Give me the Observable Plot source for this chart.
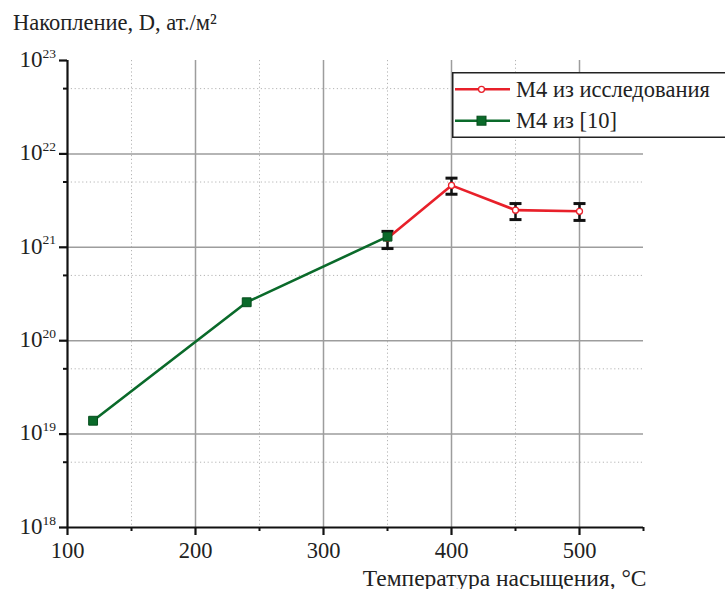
<!DOCTYPE html>
<html><head><meta charset="utf-8">
<script src="https://cdn.jsdelivr.net/npm/d3@7"></script>
<script src="https://cdn.jsdelivr.net/npm/@observablehq/plot@0.6"></script>
</head><body style="margin:0;font-family:'Liberation Serif',serif">
<div id="wrap" style="position:relative;width:725px;height:589px"></div>
<script>
// ---- data ----
const temperatureRed = [350, 400, 450, 500];
const depositRed = [1.25e21, 4.6e21, 2.5e21, 2.43e21];
const errLowRed = [0.97e21, 3.7e21, 1.98e21, 1.94e21];
const errHighRed = [1.48e21, 5.5e21, 2.94e21, 2.94e21];
const temperatureGreen = [120, 240, 350];
const depositGreen = [1.39e19, 2.58e20, 1.3e21];
const xMajorTicks = [100, 200, 300, 400, 500];
const xMinorTicks = [150, 250, 350, 450, 550];
const yMajorTicks = [1e18, 1e19, 1e20, 1e21, 1e22, 1e23];
const yExponents = ["18", "19", "20", "21", "22", "23"];
const yMinorTicks = [5e18, 5e19, 5e20, 5e21, 5e22];
const seriesNames = ["М4 из исследования", "М4 из [10]"];
const yTitle = "Накопление, D, ат./м²";
const xTitle = "Температура насыщения, °C";

const redData = temperatureRed.map((t, i) => ({t, v: depositRed[i], lo: errLowRed[i], hi: errHighRed[i]}));
const greenData = temperatureGreen.map((t, i) => ({t, v: depositGreen[i]}));

const RED = "#e8202a", GREEN = "#0a6a2a";
const FONT = "Liberation Serif";
const hline = {draw(ctx, size) { const w = Math.sqrt(size / Math.PI); ctx.moveTo(-w, 0); ctx.lineTo(w, 0); }};
const txt = {fontFamily: FONT, fill: "#222"};

const chart = Plot.plot({
  width: 725, height: 589,
  marginLeft: 67, marginRight: 82, marginTop: 60, marginBottom: 62,
  style: {fontFamily: FONT},
  x: {domain: [100, 550]},
  y: {type: "log", domain: [1e18, 1e23]},
  marks: [
    // grid
    Plot.ruleY(yMinorTicks, {stroke: "#b5b5b5", strokeWidth: 1, strokeDasharray: "1.2,2.6"}),
    Plot.ruleX(xMinorTicks.filter(d => d < 550), {stroke: "#b5b5b5", strokeWidth: 1, strokeDasharray: "1.2,2.6"}),
    Plot.ruleY(yMajorTicks.filter(d => d > 1e18 && d < 1e23), {stroke: "#9d9d9d", strokeWidth: 1.5}),
    Plot.ruleX(xMajorTicks.filter(d => d > 100), {stroke: "#9d9d9d", strokeWidth: 1.5}),
    // axes
    Plot.ruleX([100], {stroke: "#111", strokeWidth: 2.2}),
    Plot.ruleY([1e18], {stroke: "#111", strokeWidth: 2.2}),
    Plot.axisY({ticks: yMajorTicks, tickSize: 8, tickFormat: () => "", label: null, stroke: "#111", strokeWidth: 2.2}),
    Plot.axisY({ticks: yMinorTicks, tickSize: 4, tickFormat: () => "", label: null, stroke: "#111", strokeWidth: 2}),
    Plot.axisX({ticks: xMajorTicks, tickSize: 8, tickFormat: () => "", label: null, stroke: "#111", strokeWidth: 2.2}),
    Plot.axisX({ticks: xMinorTicks, tickSize: 4, tickFormat: () => "", label: null, stroke: "#111", strokeWidth: 2}),
    // tick labels
    Plot.text(yMajorTicks, {...txt, y: d => d, frameAnchor: "left", text: () => "10", textAnchor: "end", lineAnchor: "middle", dx: -25, dy: -1, fontSize: 23}),
    Plot.text(yMajorTicks, {...txt, y: d => d, frameAnchor: "left", text: (d, i) => yExponents[i], textAnchor: "start", lineAnchor: "bottom", dx: -25, dy: -3, fontSize: 13.5}),
    Plot.text(xMajorTicks, {...txt, x: d => d, frameAnchor: "bottom", text: d => String(d), lineAnchor: "bottom", dy: 30, fontSize: 22.5}),
    // titles
    Plot.text([yTitle], {...txt, frameAnchor: "top-left", textAnchor: "start", lineAnchor: "bottom", dx: -54.5, dy: -31, fontSize: 22.5}),
    Plot.text([xTitle], {...txt, frameAnchor: "bottom-right", textAnchor: "end", lineAnchor: "bottom", dx: 3, dy: 58, fontSize: 23.5}),
    // error bars
    Plot.ruleX(redData, {x: "t", y1: "lo", y2: "hi", stroke: "#111", strokeWidth: 2.5}),
    Plot.dot(redData, {x: "t", y: "lo", symbol: hline, r: 6, stroke: "#111", strokeWidth: 3}),
    Plot.dot(redData, {x: "t", y: "hi", symbol: hline, r: 6, stroke: "#111", strokeWidth: 3}),
    // series
    Plot.line(greenData, {x: "t", y: "v", stroke: GREEN, strokeWidth: 2.6}),
    Plot.line(redData, {x: "t", y: "v", stroke: RED, strokeWidth: 2.6}),
    Plot.dot(redData, {x: "t", y: "v", r: 3, fill: "white", stroke: RED, strokeWidth: 1.3}),
    Plot.dot(greenData, {x: "t", y: "v", symbol: "square", r: 5, fill: GREEN, stroke: "#064d1d", strokeWidth: 1})
  ]
});
chart.style.position = "absolute";
chart.style.left = "0px";
chart.style.top = "0px";
const wrap = document.getElementById("wrap");
wrap.appendChild(chart);

// legend
const ns = "http://www.w3.org/2000/svg";
const lg = document.createElementNS(ns, "svg");
lg.setAttribute("width", 273);
lg.setAttribute("height", 68);
lg.setAttribute("style", "position:absolute;left:452px;top:72px");
lg.innerHTML = `
  <rect x="0.75" y="0.75" width="320" height="64.5" fill="white" stroke="#222" stroke-width="1.5"/>
  <line x1="3" x2="58" y1="17.3" y2="17.3" stroke="${RED}" stroke-width="2.6"/>
  <circle cx="29.5" cy="17.3" r="3" fill="white" stroke="${RED}" stroke-width="1.3"/>
  <line x1="3" x2="58" y1="48.7" y2="48.7" stroke="${GREEN}" stroke-width="2.6"/>
  <rect x="25" y="44.2" width="9" height="9" fill="${GREEN}" stroke="#064d1d" stroke-width="1"/>
  <text x="64" y="25" font-family="Liberation Serif" font-size="22.5" fill="#222">${seriesNames[0]}</text>
  <text x="64" y="56.3" font-family="Liberation Serif" font-size="22.5" fill="#222">${seriesNames[1]}</text>`;
wrap.appendChild(lg);
</script>
</body></html>
